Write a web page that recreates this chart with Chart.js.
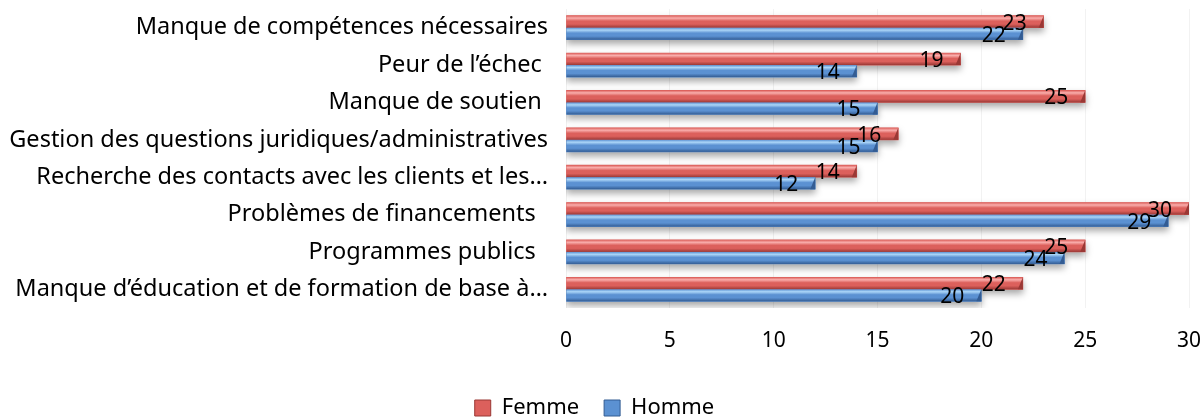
<!DOCTYPE html>
<html>
<head>
<meta charset="utf-8">
<script src="https://cdn.jsdelivr.net/npm/chart.js@4/dist/chart.umd.min.js"></script>
<style>
  html, body { margin: 0; padding: 0; background: #fff; }
  #wrap { width: 1204px; height: 419px; }
</style>
</head>
<body>
<div id="wrap"><canvas id="c" width="1204" height="419"></canvas></div>
<script>
// catégories, de haut en bas
const categories = [
  'Manque de compétences nécessaires',
  'Peur de l\u2019échec ',
  'Manque de soutien ',
  'Gestion des questions juridiques/administratives',
  'Recherche des contacts avec les clients et les\u2026',
  'Problèmes de financements  ',
  'Programmes publics  ',
  'Manque d\u2019éducation et de formation de base à\u2026'
];
const femme = [23, 19, 25, 16, 14, 30, 25, 22];
const homme = [22, 14, 15, 15, 12, 29, 24, 20];
const xTicks = [0, 5, 10, 15, 20, 25, 30];

const FONT = 'Noto Sans';

// couleurs "cylindre" façon Excel
const shades = {
  Femme: { base: '#dc605c', light: '#f9aeac', dark: '#9a3835' },
  Homme: { base: '#5b91d2', light: '#acd6f8', dark: '#335c93' }
};

// ombre sous les barres
const shadowPlugin = {
  id: 'shadow',
  beforeDatasetsDraw(chart) {
    const ctx = chart.ctx;
    ctx.save();
    ctx.shadowColor = 'rgba(0,0,0,0.35)';
    ctx.shadowBlur = 7;
    ctx.shadowOffsetY = 4;
  },
  afterDatasetsDraw(chart) {
    chart.ctx.restore();
  }
};

// dégradé par-dessus chaque barre + étiquettes de valeur
const bevelPlugin = {
  id: 'bevel',
  afterDatasetsDraw(chart) {
    const ctx = chart.ctx;
    chart.data.datasets.forEach((ds, di) => {
      const s = shades[ds.label];
      chart.getDatasetMeta(di).data.forEach(bar => {
        const h = bar.height;
        const top = bar.y - h / 2;
        const g = ctx.createLinearGradient(0, top, 0, top + h);
        g.addColorStop(0, s.base);
        g.addColorStop(0.2, s.light);
        g.addColorStop(0.45, s.base);
        g.addColorStop(0.7, s.base);
        g.addColorStop(1, s.dark);
        ctx.fillStyle = g;
        ctx.fillRect(bar.base, top, bar.x - bar.base, h);
        // petit biseau à l'extrémité
        ctx.fillStyle = s.dark;
        ctx.beginPath();
        ctx.moveTo(bar.x, top);
        ctx.lineTo(bar.x, top + h);
        ctx.lineTo(bar.x - 5, top + h);
        ctx.closePath();
        ctx.fill();
      });
    });
    ctx.save();
    ctx.fillStyle = '#000';
    ctx.font = '21px "' + FONT + '"';
    ctx.textAlign = 'center';
    ctx.textBaseline = 'middle';
    chart.data.datasets.forEach((ds, di) => {
      chart.getDatasetMeta(di).data.forEach((bar, i) => {
        ctx.fillText(String(ds.data[i]), bar.x - 29, bar.y + 2);
      });
    });
    ctx.restore();
  }
};

new Chart(document.getElementById('c'), {
  type: 'bar',
  data: {
    labels: categories,
    datasets: [
      { label: 'Femme', data: femme, backgroundColor: shades.Femme.base, barThickness: 12, categoryPercentage: 0.67 },
      { label: 'Homme', data: homme, backgroundColor: shades.Homme.base, barThickness: 12, categoryPercentage: 0.67 }
    ]
  },
  options: {
    indexAxis: 'y',
    responsive: false,
    animation: false,
    layout: { padding: { top: 9, right: 15, bottom: -10, left: 0 } },
    plugins: {
      legend: {
        position: 'bottom',
        labels: {
          color: '#000',
          font: { family: FONT, size: 22 },
          boxWidth: 16,
          boxHeight: 16,
          padding: 25,
          generateLabels(chart) {
            return chart.data.datasets.map((ds, i) => ({
              text: ds.label,
              fillStyle: shades[ds.label].base,
              strokeStyle: shades[ds.label].dark,
              lineWidth: 1,
              datasetIndex: i
            }));
          }
        }
      },
      tooltip: { enabled: false }
    },
    scales: {
      x: {
        min: 0,
        max: 30,
        afterBuildTicks(axis) { axis.ticks = xTicks.map(v => ({ value: v })); },
        grid: { color: '#f2f2f2', drawTicks: false },
        border: { display: false },
        ticks: { color: '#000', font: { family: FONT, size: 21 }, padding: 20 },
        afterFit(axis) { axis.height = 64; axis.paddingRight = 0; axis.paddingLeft = 0; }
      },
      y: {
        grid: { display: false },
        border: { display: false },
        ticks: { color: '#000', font: { family: FONT, size: 23.5 }, padding: 10 },
        afterFit(axis) { axis.width = 566; axis.paddingTop = 0; axis.paddingBottom = 0; }
      }
    }
  },
  plugins: [shadowPlugin, bevelPlugin]
});
</script>
</body>
</html>
